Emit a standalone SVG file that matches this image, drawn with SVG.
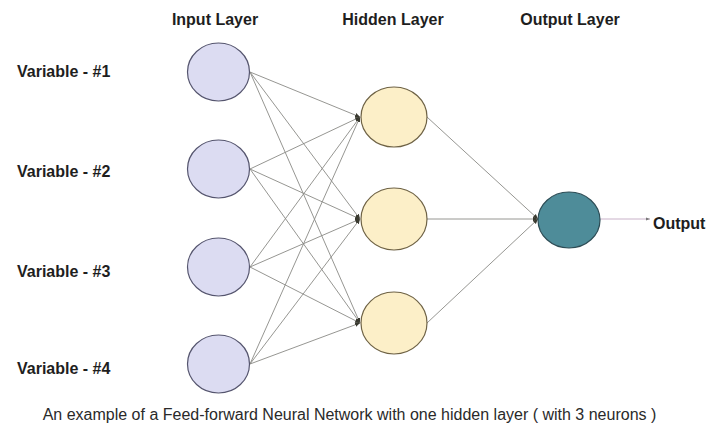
<svg xmlns="http://www.w3.org/2000/svg" width="707" height="429" viewBox="0 0 707 429">
<style>
.lbl{font-family:"Liberation Sans",Arial,sans-serif;font-weight:bold;font-size:16px;fill:#1e1e1e}
.cap{font-family:"Liberation Sans",Arial,sans-serif;font-size:16px;fill:#2a2a2a}
.inp{fill:#dcdcf2;stroke:#55556e;stroke-width:1.2}
.hid{fill:#fcefc8;stroke:#6e6245;stroke-width:1.2}
.out{fill:#4e8c99;stroke:#2c4c55;stroke-width:1.2}
.edge{stroke:#8a8a86;stroke-width:0.9;fill:none;marker-end:url(#ah)}
</style>
<defs>
<marker id="ah" markerUnits="userSpaceOnUse" markerWidth="6" markerHeight="5" refX="5" refY="2.5" orient="auto">
<path d="M0,0.3 L5,2.5 L0,4.7 Z" fill="#3a3a30"/>
</marker>
<marker id="ah2" markerUnits="userSpaceOnUse" markerWidth="5" markerHeight="4" refX="4" refY="2" orient="auto">
<path d="M0,0.5 L4,2 L0,3.5 Z" fill="#777"/>
</marker>
</defs>
<rect width="707" height="429" fill="#ffffff"/>
<g id="titles">
<text class="lbl" x="215" y="25" text-anchor="middle">Input Layer</text>
<text class="lbl" x="393" y="25" text-anchor="middle">Hidden Layer</text>
<text class="lbl" x="570" y="25" text-anchor="middle">Output Layer</text>
</g>
<g id="connectors">
<line class="edge" x1="250" y1="72" x2="360" y2="117"/>
<line class="edge" x1="250" y1="72" x2="360" y2="219"/>
<line class="edge" x1="250" y1="72" x2="360" y2="323"/>
<line class="edge" x1="250" y1="169" x2="360" y2="117"/>
<line class="edge" x1="250" y1="169" x2="360" y2="219"/>
<line class="edge" x1="250" y1="169" x2="360" y2="323"/>
<line class="edge" x1="250" y1="267" x2="360" y2="117"/>
<line class="edge" x1="250" y1="267" x2="360" y2="219"/>
<line class="edge" x1="250" y1="267" x2="360" y2="323"/>
<line class="edge" x1="250" y1="364" x2="360" y2="117"/>
<line class="edge" x1="250" y1="364" x2="360" y2="219"/>
<line class="edge" x1="250" y1="364" x2="360" y2="323"/>
<line class="edge" x1="427" y1="117" x2="538" y2="219"/>
<line class="edge" x1="427" y1="219" x2="538" y2="219"/>
<line class="edge" x1="427" y1="323" x2="538" y2="219"/>
<line x1="600" y1="219" x2="650" y2="219" stroke="#c9b2c9" stroke-width="1" marker-end="url(#ah2)"/>
</g>
<g id="in1"><ellipse class="inp" cx="218.5" cy="72" rx="31" ry="29"/><text class="lbl" x="17" y="77">Variable - #1</text></g>
<g id="in2"><ellipse class="inp" cx="218.5" cy="169" rx="31" ry="29"/><text class="lbl" x="17" y="177">Variable - #2</text></g>
<g id="in3"><ellipse class="inp" cx="218.5" cy="267" rx="31" ry="29"/><text class="lbl" x="17" y="277">Variable - #3</text></g>
<g id="in4"><ellipse class="inp" cx="218.5" cy="364" rx="31" ry="29"/><text class="lbl" x="17" y="374">Variable - #4</text></g>
<g id="h1"><ellipse class="hid" cx="394" cy="117" rx="33" ry="30"/></g>
<g id="h2"><ellipse class="hid" cx="394" cy="219" rx="33" ry="31"/></g>
<g id="h3"><ellipse class="hid" cx="394" cy="323" rx="33" ry="31"/></g>
<g id="out"><ellipse class="out" cx="569" cy="220" rx="31" ry="28"/><text class="lbl" x="653" y="229">Output</text></g>
<g id="caption"><text class="cap" x="349.5" y="420" text-anchor="middle">An example of a Feed-forward Neural Network with one hidden layer ( with 3 neurons )</text></g>
</svg>
